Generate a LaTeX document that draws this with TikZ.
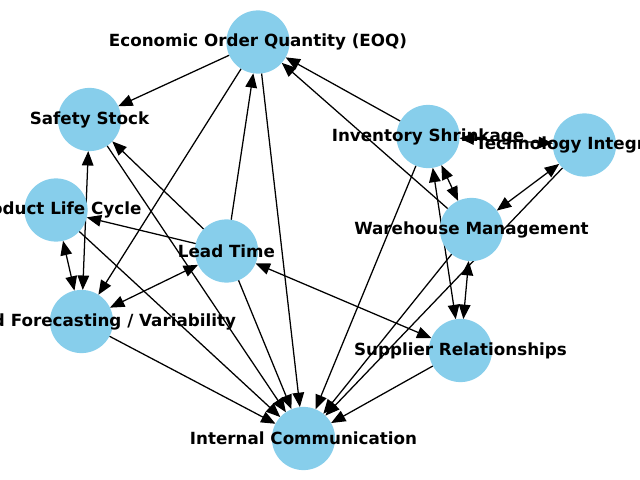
\documentclass[tikz,border=0pt]{standalone}
\usepackage{fontspec}
\setmainfont{DejaVu Sans}
\usetikzlibrary{arrows.meta,backgrounds}
\definecolor{skyblue}{HTML}{87CEEB}
\tikzset{
  hub/.style={circle, fill=skyblue, draw=none, minimum size=1.58cm, inner sep=0pt, outer sep=0pt},
  every label/.style={font=\fontsize{11.9}{14}\selectfont\bfseries, inner sep=0pt},
  link/.style={line width=0.9pt, -{Triangle[length=0.36cm,width=0.29cm]}},
  twoway/.style={line width=0.9pt, {Triangle[length=0.36cm,width=0.29cm]}-{Triangle[length=0.36cm,width=0.29cm]}}
}

\begin{document}
\begin{tikzpicture}[x=0.025cm, y=-0.025cm]
  \useasboundingbox (0, 0) rectangle (640, 480);
  \node [hub, label={center:Economic Order Quantity (EOQ)}] (EOQ) at (258, 42) {};
  \node [hub, label={center:Safety Stock}] (SS) at (89.5, 119.5) {};
  \node [hub, label={center:Product Life Cycle}] (PLC) at (56, 210) {};
  \node [hub, label={center:Demand Forecasting / Variability}] (DFV) at (81.5, 321.5) {};
  \node [hub, label={center:Lead Time}] (LT) at (226.5, 251) {};
  \node [hub, label={center:Internal Communication}] (IC) at (303.5, 438.5) {};
  \node [hub, label={center:Inventory Shrinkage}] (IS) at (428, 136.5) {};
  \node [hub, label={center:Technology Integration}] (TI) at (584.5, 145) {};
  \node [hub, label={center:Warehouse Management}] (WM) at (471.5, 229.5) {};
  \node [hub, label={center:Supplier Relationships}] (SR) at (460.5, 350.5) {};
  \begin{scope}[on background layer]
    \draw [link] (EOQ) -- (SS);
    \draw [link] (EOQ) -- (DFV);
    \draw [link] (EOQ) -- (IC);
    \draw [link] (LT) -- (EOQ);
    \draw [link] (IS) -- (EOQ);
    \draw [link] (WM) -- (EOQ);
    \draw [twoway] (SS) -- (DFV);
    \draw [link] (SS) -- (IC);
    \draw [link] (LT) -- (SS);
    \draw [link] (LT) -- (PLC);
    \draw [twoway] (PLC) -- (DFV);
    \draw [link] (PLC) -- (IC);
    \draw [twoway] (LT) -- (DFV);
    \draw [link] (DFV) -- (IC);
    \draw [link] (LT) -- (IC);
    \draw [twoway] (LT) -- (SR);
    \draw [twoway] (IS) -- (TI);
    \draw [twoway] (IS) -- (WM);
    \draw [link] (IS) -- (IC);
    \draw [twoway] (IS) -- (SR);
    \draw [twoway] (WM) -- (SR);
    \draw [twoway] (TI) -- (WM);
    \draw [link] (TI) -- (IC);
    \draw [link] (WM) -- (IC);
    \draw [link] (SR) -- (IC);
  \end{scope}
\end{tikzpicture}
\end{document}
